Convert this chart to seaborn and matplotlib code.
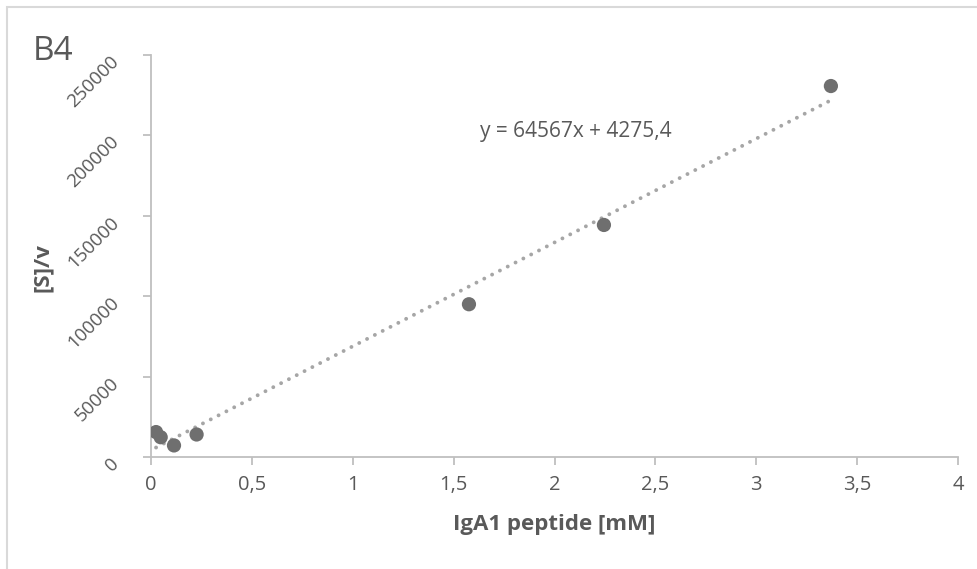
import numpy as np
import pandas as pd
import matplotlib
matplotlib.use("Agg")
import matplotlib.pyplot as plt
import matplotlib.transforms as mtrans
import seaborn as sns
from matplotlib.patches import Rectangle

# Data
peptide_mM = [0.025, 0.048, 0.114, 0.226, 1.576, 2.245, 3.37]
s_over_v = [15500, 12300, 7200, 14000, 95000, 144300, 230700]
slope = 64567
intercept = 4275.4
x_ticks = [0, 0.5, 1, 1.5, 2, 2.5, 3, 3.5, 4]
x_tick_labels = ["0", "0,5", "1", "1,5", "2", "2,5", "3", "3,5", "4"]
y_ticks = [0, 50000, 100000, 150000, 200000, 250000]
y_tick_labels = ["0", "50000", "100000", "150000", "200000", "250000"]
title = "B4"
equation = "y = 64567x + 4275,4"

sns.set_theme(style="white")
plt.rcParams['font.family'] = ['Open Sans', 'DejaVu Sans']

TXT = "#595959"
W, H = 978, 569
fig = plt.figure(figsize=(W / 100, H / 100), dpi=100)
ax = fig.add_axes([151 / W, 1 - 457 / H, (958 - 151) / W, (457 - 55) / H])

df = pd.DataFrame({"x": peptide_mM, "y": s_over_v})

# linear trendline from the displayed equation
xs = np.linspace(min(peptide_mM), max(peptide_mM), 200)
sns.lineplot(x=xs, y=slope * xs + intercept, ax=ax, color="#a6a6a6",
             linewidth=2.8, zorder=2)
tl = ax.lines[-1]
tl.set_linestyle((0, (0.01, 2.25)))
tl.set_dash_capstyle("round")

sns.scatterplot(data=df, x="x", y="y", ax=ax, color="#6f6f6f", s=105,
                edgecolor="none", zorder=3)

ax.set_xlim(0, 4)
ax.set_ylim(0, 250000)
ax.set_xticks(x_ticks)
ax.set_xticklabels(x_tick_labels)
ax.set_yticks(y_ticks)
ax.set_yticklabels(y_tick_labels, rotation=45, ha="right", va="center",
                   rotation_mode="anchor")

for s in ["top", "right"]:
    ax.spines[s].set_visible(False)
for s in ["left", "bottom"]:
    ax.spines[s].set_color("#bfbfbf")
    ax.spines[s].set_linewidth(1.3)

ax.tick_params(axis="both", which="major", direction="out", length=6,
               width=1.3, color="#bfbfbf", labelcolor=TXT, labelsize=14.5,
               left=True, bottom=True)
ax.tick_params(axis="x", pad=7)
ax.tick_params(axis="y", pad=19, labelsize=13.5)
for lbl in ax.get_yticklabels():
    lbl.set_transform(lbl.get_transform() + mtrans.ScaledTranslation(0, -0.04, fig.dpi_scale_trans))

ax.set_xlabel("IgA1 peptide [mM]", fontsize=16, fontweight="bold", color=TXT)
ax.set_ylabel("[S]/v", fontsize=16, fontweight="bold", color=TXT)
ax.xaxis.set_label_coords(0.5, (457 - 514) / 402)
ax.yaxis.set_label_coords((53 - 151) / 807, (457 - 268) / 402)
ax.grid(False)

fig.text(33 / W, 1 - 52 / H, title, fontsize=24, color=TXT, ha="left", va="center")
fig.text(480 / W, 1 - 131 / H, equation, fontsize=15, color=TXT, ha="left", va="center")

fig.patches.append(Rectangle((7 / W, -0.1), 2, 1 - 7 / H + 0.1, transform=fig.transFigure,
                             fill=False, edgecolor="#d9d9d9", linewidth=1.5, figure=fig))

fig.savefig("out.png", dpi=100, facecolor="white")
